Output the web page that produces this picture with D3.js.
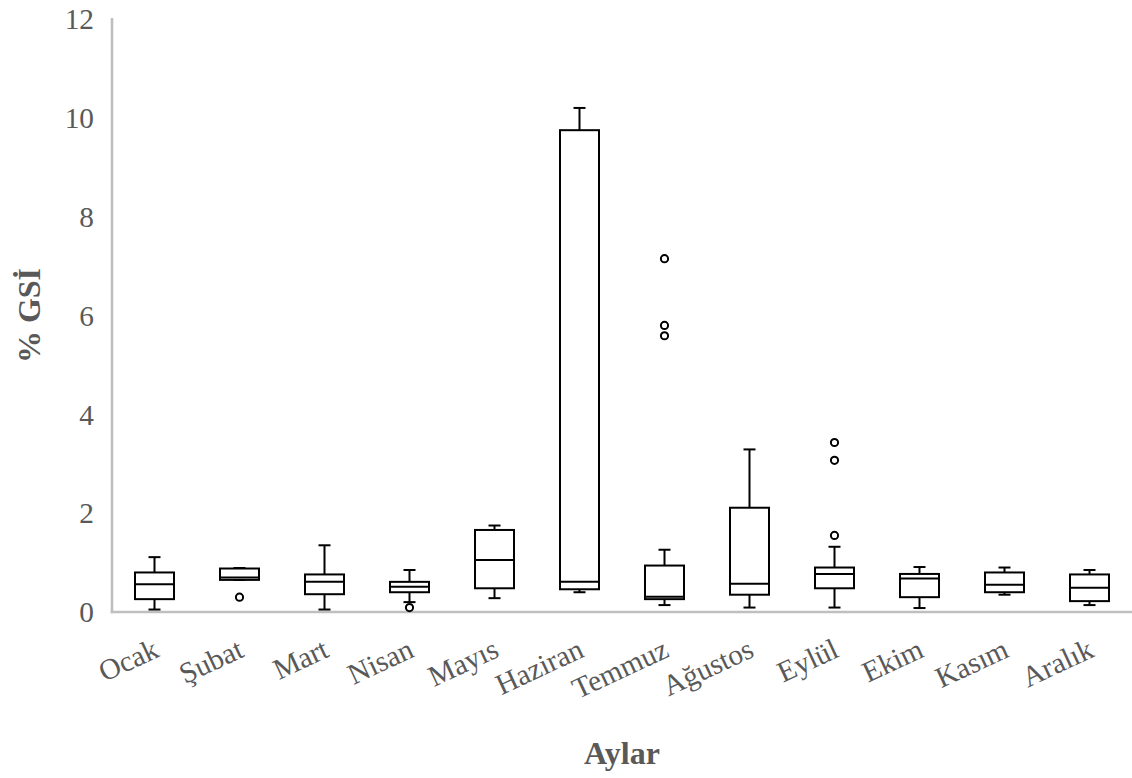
<!DOCTYPE html>
<html>
<head>
<meta charset="utf-8">
<script src="https://cdn.jsdelivr.net/npm/d3@7"></script>
<style>
  html, body { margin: 0; padding: 0; background: #ffffff; }
  svg { display: block; }
</style>
</head>
<body>
<svg id="chart" width="1132" height="778"></svg>
<script>
// ---- data ----
const categories = ["Ocak","Şubat","Mart","Nisan","Mayıs","Haziran","Temmuz","Ağustos","Eylül","Ekim","Kasım","Aralık"];
const whiskerLow  = [0.05, 0.65, 0.05, 0.20, 0.28, 0.40, 0.14, 0.09, 0.09, 0.08, 0.35, 0.14];
const q1          = [0.26, 0.65, 0.36, 0.40, 0.48, 0.46, 0.26, 0.35, 0.48, 0.30, 0.40, 0.22];
const median      = [0.56, 0.70, 0.61, 0.51, 1.05, 0.61, 0.31, 0.57, 0.77, 0.68, 0.55, 0.49];
const q3          = [0.80, 0.88, 0.76, 0.61, 1.66, 9.75, 0.94, 2.11, 0.90, 0.77, 0.80, 0.76];
const whiskerHigh = [1.11, 0.89, 1.35, 0.85, 1.75, 10.20, 1.26, 3.29, 1.32, 0.91, 0.90, 0.85];
const outlierMonths = ["Şubat","Nisan","Temmuz","Temmuz","Temmuz","Eylül","Eylül","Eylül"];
const outlierValues = [0.30, 0.09, 7.15, 5.80, 5.59, 3.43, 3.07, 1.55];
const yTicks = [0, 2, 4, 6, 8, 10, 12];
const xTitle = "Aylar";
const yTitle = "% GSİ";

(function () {
const boxes = categories.map((c, i) => ({
  cat: c, lo: whiskerLow[i], q1: q1[i], med: median[i], q3: q3[i], hi: whiskerHigh[i]
}));
const outliers = outlierMonths.map((m, i) => ({ cat: m, v: outlierValues[i] }));

// ---- layout ----
const svg = d3.select("#chart");
const pLeft = 112, pRight = 1132, pTop = 19, pBottom = 612;
const x = d3.scaleBand().domain(categories).range([pLeft, pRight]).padding(0);
const y = d3.scaleLinear().domain([0, 12]).range([pBottom, pTop]);
const cx = c => x(c) + x.bandwidth() / 2;
const boxW = 39, capW = 12;
const axisColor = "#bfbfbf", textColor = "#595959";
const serif = "'Liberation Serif', 'Times New Roman', serif";

// axes lines
svg.append("line").attr("x1", pLeft).attr("x2", pLeft).attr("y1", pTop - 1).attr("y2", pBottom + 1.2)
  .attr("stroke", axisColor).attr("stroke-width", 2.6);
svg.append("line").attr("x1", pLeft - 1.3).attr("x2", pRight).attr("y1", pBottom).attr("y2", pBottom)
  .attr("stroke", axisColor).attr("stroke-width", 2.6);

// y tick labels
svg.append("g").selectAll("text").data(yTicks).join("text")
  .attr("x", 94).attr("y", d => y(d)).attr("dy", "0.35em")
  .attr("text-anchor", "end")
  .attr("font-family", serif).attr("font-size", "29.3px").attr("fill", textColor)
  .text(d => d);

// x tick labels
svg.append("g").selectAll("text").data(categories).join("text")
  .attr("transform", d => `translate(${cx(d) + 6},${pBottom + 44}) rotate(-25)`)
  .attr("text-anchor", "end")
  .attr("font-family", serif).attr("font-size", "29.3px").attr("fill", textColor)
  .text(d => d);

// titles
svg.append("text").attr("x", 622).attr("y", 764).attr("text-anchor", "middle")
  .attr("font-family", serif).attr("font-size", "32px").attr("font-weight", "bold")
  .attr("fill", textColor).text(xTitle);
svg.append("text").attr("transform", `translate(40,${(pTop + pBottom) / 2}) rotate(-90)`)
  .attr("text-anchor", "middle")
  .attr("font-family", serif).attr("font-size", "32px").attr("font-weight", "bold")
  .attr("fill", textColor).text(yTitle);

// boxes
const g = svg.append("g").attr("stroke", "#000").attr("stroke-width", 2).attr("fill", "none");
const bx = g.selectAll("g.box").data(boxes).join("g").attr("class", "box");
// whiskers
bx.append("line").attr("x1", d => cx(d.cat)).attr("x2", d => cx(d.cat))
  .attr("y1", d => y(d.hi)).attr("y2", d => y(d.q3));
bx.append("line").attr("x1", d => cx(d.cat)).attr("x2", d => cx(d.cat))
  .attr("y1", d => y(d.q1)).attr("y2", d => y(d.lo));
// caps
bx.append("line").attr("x1", d => cx(d.cat) - capW / 2).attr("x2", d => cx(d.cat) + capW / 2)
  .attr("y1", d => y(d.hi)).attr("y2", d => y(d.hi));
bx.append("line").attr("x1", d => cx(d.cat) - capW / 2).attr("x2", d => cx(d.cat) + capW / 2)
  .attr("y1", d => y(d.lo)).attr("y2", d => y(d.lo));
// box
bx.append("rect").attr("x", d => cx(d.cat) - boxW / 2).attr("width", boxW)
  .attr("y", d => y(d.q3)).attr("height", d => y(d.q1) - y(d.q3))
  .attr("fill", "#fff");
// median
bx.append("line").attr("x1", d => cx(d.cat) - boxW / 2).attr("x2", d => cx(d.cat) + boxW / 2)
  .attr("y1", d => y(d.med)).attr("y2", d => y(d.med));

// outliers
g.selectAll("circle").data(outliers).join("circle")
  .attr("cx", d => cx(d.cat)).attr("cy", d => y(d.v)).attr("r", 3.6)
  .attr("fill", "#fff");
})();
</script>
</body>
</html>
